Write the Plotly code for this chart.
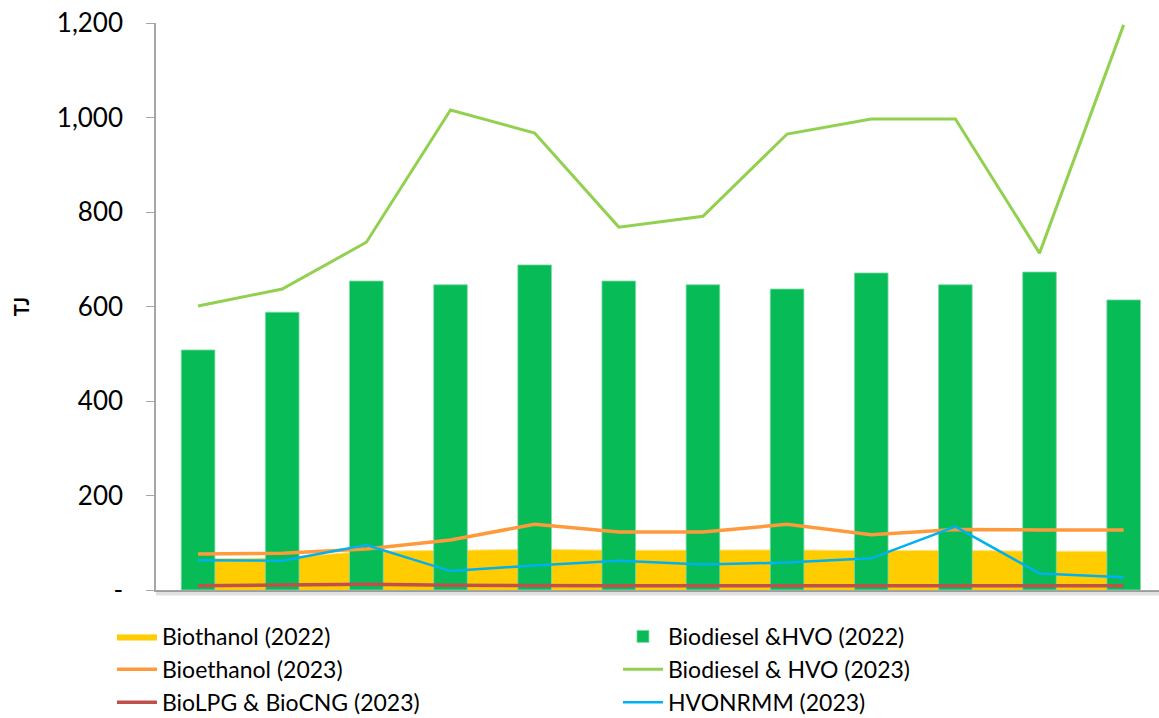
import plotly.graph_objects as go

# Monthly values, TJ
months = ["Jan", "Feb", "Mar", "Apr", "May", "Jun",
          "Jul", "Aug", "Sep", "Oct", "Nov", "Dec"]
biothanol_2022 = [66, 68, 82, 84, 86, 84, 85, 85, 83, 84, 82, 82]
biodiesel_hvo_2022 = [508, 588, 654, 646, 688, 654, 646, 637, 671, 646, 673, 614]
bioethanol_2023 = [76, 78, 87, 106, 139, 123, 123, 139, 117, 128, 127, 127]
biodiesel_hvo_2023 = [601, 637, 736, 1016, 967, 768, 791, 965, 997, 997, 713, 1196]
biolpg_biocng_2023 = [9, 10, 12, 10, 9, 9, 9, 9, 9, 9, 9, 9]
hvonrmm_2023 = [63, 62, 95, 40, 52, 62, 54, 58, 67, 134, 35, 27]

y_ticks = [0, 200, 400, 600, 800, 1000, 1200]
y_tick_text = ["-", "200", "400", "600", "800", "1,000", "1,200"]

FONT = "Lato"
X_RANGE = [-0.5, 11.42]
Y_RANGE = [0, 1200]

fig = go.Figure()

# Area sits on the base subplot so the bars overlay it
fig.add_trace(go.Scatter(
    x=months, y=biothanol_2022, name="Biothanol (2022)",
    mode="lines", fill="tozeroy", fillcolor="#FFCC00",
    line=dict(color="#FFE27A", width=1), xaxis="x", yaxis="y"))

fig.add_trace(go.Bar(
    x=months, y=biodiesel_hvo_2022, name="Biodiesel &HVO (2022)",
    marker=dict(color="#07BB57", line=dict(color="#7FDCA6", width=0.8)),
    xaxis="x2", yaxis="y2"))

line_series = [
    ("Bioethanol (2023)", bioethanol_2023, "#FF9A3C", 3.5),
    ("Biodiesel & HVO (2023)", biodiesel_hvo_2023, "#92D050", 3),
    ("BioLPG & BioCNG (2023)", biolpg_biocng_2023, "#C0504D", 3.5),
    ("HVONRMM (2023)", hvonrmm_2023, "#00B0F0", 2.5),
]
for name, vals, color, width in line_series:
    fig.add_trace(go.Scatter(
        x=months, y=vals, name=name, mode="lines",
        line=dict(color=color, width=width), xaxis="x2", yaxis="y2"))

fig.update_layout(
    width=1159, height=718,
    margin=dict(l=156, r=0, t=23, b=128, autoexpand=False),
    plot_bgcolor="white", paper_bgcolor="white",
    font=dict(family=FONT, color="black"),
    bargap=0.6,
    showlegend=True,
    legend=dict(
        orientation="h", x=-0.0439, xanchor="left",
        y=-0.044, yanchor="top",
        entrywidth=451, entrywidthmode="pixels",
        font=dict(family=FONT, size=23, color="black"),
        itemwidth=40, traceorder="normal"),
    xaxis=dict(
        type="category", range=X_RANGE, showticklabels=False, ticks="",
        showgrid=False, zeroline=False, showline=True,
        linecolor="#A6A6A6", linewidth=1.5),
    yaxis=dict(
        range=Y_RANGE, tickvals=y_ticks, ticktext=y_tick_text,
        tickfont=dict(family=FONT, size=26, color="black"),
        ticks="outside", ticklen=8, tickcolor="#A6A6A6",
        ticklabelstandoff=18,
        showgrid=False, zeroline=False, showline=True,
        linecolor="#A6A6A6", linewidth=1.5,
        title=dict(text="<b>TJ</b>", font=dict(family=FONT, size=20),
                   standoff=22)),
    xaxis2=dict(type="category", range=X_RANGE, overlaying="x",
                visible=False),
    yaxis2=dict(range=Y_RANGE, overlaying="y", visible=False),
)

# Soft shadow under the category axis
fig.add_shape(type="line", xref="paper", yref="paper",
              x0=0, x1=1, y0=-0.006, y1=-0.006,
              line=dict(color="rgba(0,0,0,0.12)", width=4))

fig.write_html("out.html")
